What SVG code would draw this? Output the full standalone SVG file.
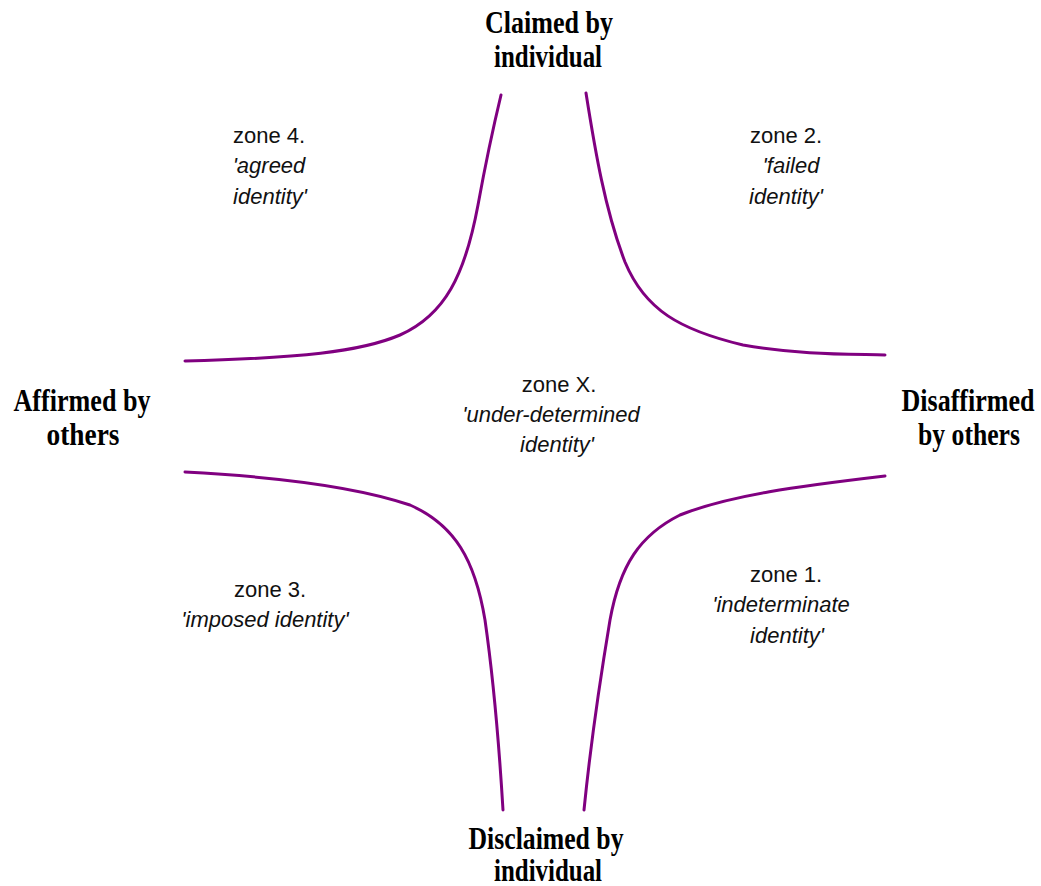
<svg xmlns="http://www.w3.org/2000/svg" width="1041" height="886" viewBox="0 0 1041 886">
<style>
.axis{font-family:"Liberation Serif","Times New Roman",serif;font-weight:bold;font-size:32px;fill:#000;text-anchor:middle}
.zone{font-family:"Liberation Sans",Arial,sans-serif;font-size:22px;fill:#111;text-anchor:middle}
.it{font-style:italic}
.curve{fill:none;stroke:#800080;stroke-width:3;stroke-linecap:round;stroke-linejoin:round}
</style>
<rect width="1041" height="886" fill="#fff"/>
<g id="connectors">
<path class="curve" d="M185,361 C300,358 360,352 400,335 C445,315 465,275 478,205 C488,150 495,120 501,95"/>
<path class="curve" d="M586,93 C595,150 605,210 625,262 C645,310 680,330 743,345 C800,355 850,354 885,355"/>
<path class="curve" d="M185,472 C280,477 360,488 410,505 C455,525 475,560 485,620 C495,690 500,760 503,810"/>
<path class="curve" d="M885,476 C800,486 730,495 680,515 C640,535 620,565 610,620 C600,680 590,750 584,810"/>
</g>
<g id="claimed">
<text class="axis" x="549" y="33" textLength="128" lengthAdjust="spacingAndGlyphs">Claimed by</text>
<text class="axis" x="548" y="67" textLength="108" lengthAdjust="spacingAndGlyphs">individual</text>
</g>
<g id="affirmed">
<text class="axis" x="82" y="411" textLength="137" lengthAdjust="spacingAndGlyphs">Affirmed by</text>
<text class="axis" x="83" y="445" textLength="73" lengthAdjust="spacingAndGlyphs">others</text>
</g>
<g id="disaffirmed">
<text class="axis" x="968" y="411" textLength="133" lengthAdjust="spacingAndGlyphs">Disaffirmed</text>
<text class="axis" x="969" y="445" textLength="102" lengthAdjust="spacingAndGlyphs">by others</text>
</g>
<g id="disclaimed">
<text class="axis" x="546" y="849" textLength="155" lengthAdjust="spacingAndGlyphs">Disclaimed by</text>
<text class="axis" x="548" y="881" textLength="108" lengthAdjust="spacingAndGlyphs">individual</text>
</g>
<g id="zone4">
<text class="zone" x="269" y="143">zone 4.</text>
<text class="zone it" x="269" y="173">'agreed</text>
<text class="zone it" x="270" y="204">identity'</text>
</g>
<g id="zone2">
<text class="zone" x="786" y="143">zone 2.</text>
<text class="zone it" x="791" y="173">'failed</text>
<text class="zone it" x="786" y="204">identity'</text>
</g>
<g id="zoneX">
<text class="zone" x="559" y="392">zone X.</text>
<text class="zone it" x="551" y="422">'under-determined</text>
<text class="zone it" x="557" y="452">identity'</text>
</g>
<g id="zone3">
<text class="zone" x="270" y="597">zone 3.</text>
<text class="zone it" x="265" y="627">'imposed identity'</text>
</g>
<g id="zone1">
<text class="zone" x="786" y="582">zone 1.</text>
<text class="zone it" x="781" y="612">'indeterminate</text>
<text class="zone it" x="787" y="643">identity'</text>
</g>
</svg>
